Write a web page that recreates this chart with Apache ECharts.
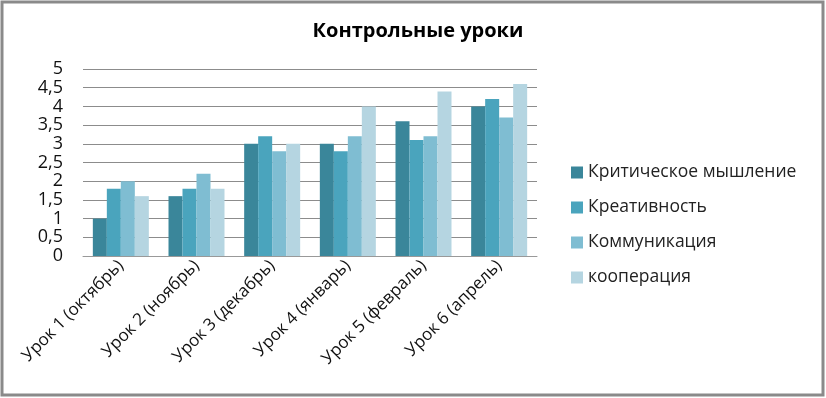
<!DOCTYPE html>
<html>
<head>
<meta charset="utf-8">
<script src="https://cdn.jsdelivr.net/npm/echarts@6/dist/echarts.min.js"></script>
<style>
html,body{margin:0;padding:0;background:#fff;}
#chart{width:826px;height:398px;}
</style>
</head>
<body>
<div id="chart"></div>
<script>
// данные диаграммы
var categories=['Урок 1 (октябрь)','Урок 2 (ноябрь)','Урок 3 (декабрь)','Урок 4 (январь)','Урок 5 (февраль)','Урок 6 (апрель)'];
var seriesNames=['Критическое мышление','Креативность','Коммуникация','кооперация'];
var critical=[1,1.6,3,3,3.6,4];
var creative=[1.8,1.8,3.2,2.8,3.1,4.2];
var communication=[2,2.2,2.8,3.2,3.2,3.7];
var cooperation=[1.6,1.8,3,4,4.4,4.6];
var colors=['#3a869a','#4aa4bd','#7fbdd2','#b5d5e1'];

var font='"Open Sans", sans-serif';
var myChart=echarts.init(document.getElementById('chart'));

var values=[critical,creative,communication,cooperation];
var series=[];
for(var i=0;i<values.length;i++){
	series.push({
		name:seriesNames[i],
		type:'bar',
		data:values[i],
		barGap:0,
		barCategoryGap:'26%',
		itemStyle:{color:colors[i]}
	});
}

myChart.setOption({
	animation:false,
	color:colors,
	title:{
		text:'Контрольные уроки',
		left:413,
		textAlign:'center',
		top:16,
		textStyle:{fontFamily:font,fontSize:20,fontWeight:'bold',color:'#000'}
	},
	legend:{
		orient:'vertical',
		left:566,
		top:155,
		itemWidth:12,
		itemHeight:12,
		itemGap:10,
		icon:'rect',
		textStyle:{fontFamily:font,fontSize:17.5,color:'#222',lineHeight:25},
		data:seriesNames
	},
	grid:{left:83,right:289,top:69,bottom:142,containLabel:false},
	xAxis:{
		type:'category',
		data:categories,
		axisLine:{lineStyle:{color:'#999'}},
		axisTick:{show:false},
		axisLabel:{rotate:45,fontFamily:font,fontSize:17,color:'#111',margin:7,interval:0}
	},
	yAxis:{
		type:'value',
		min:0,max:5,interval:0.5,
		axisLine:{show:false},
		axisTick:{show:false},
		splitLine:{lineStyle:{color:'#8c8c8c'}},
		axisLabel:{
			fontFamily:font,fontSize:18,color:'#111',margin:20,
			formatter:function(v){return String(v).replace('.',',');}
		}
	},
	graphic:[{
		type:'rect',
		shape:{x:2,y:2,width:821,height:393},
		style:{fill:'none',stroke:'#8a8a8a',lineWidth:3},
		silent:true
	}],
	series:series
});
</script>
</body>
</html>
